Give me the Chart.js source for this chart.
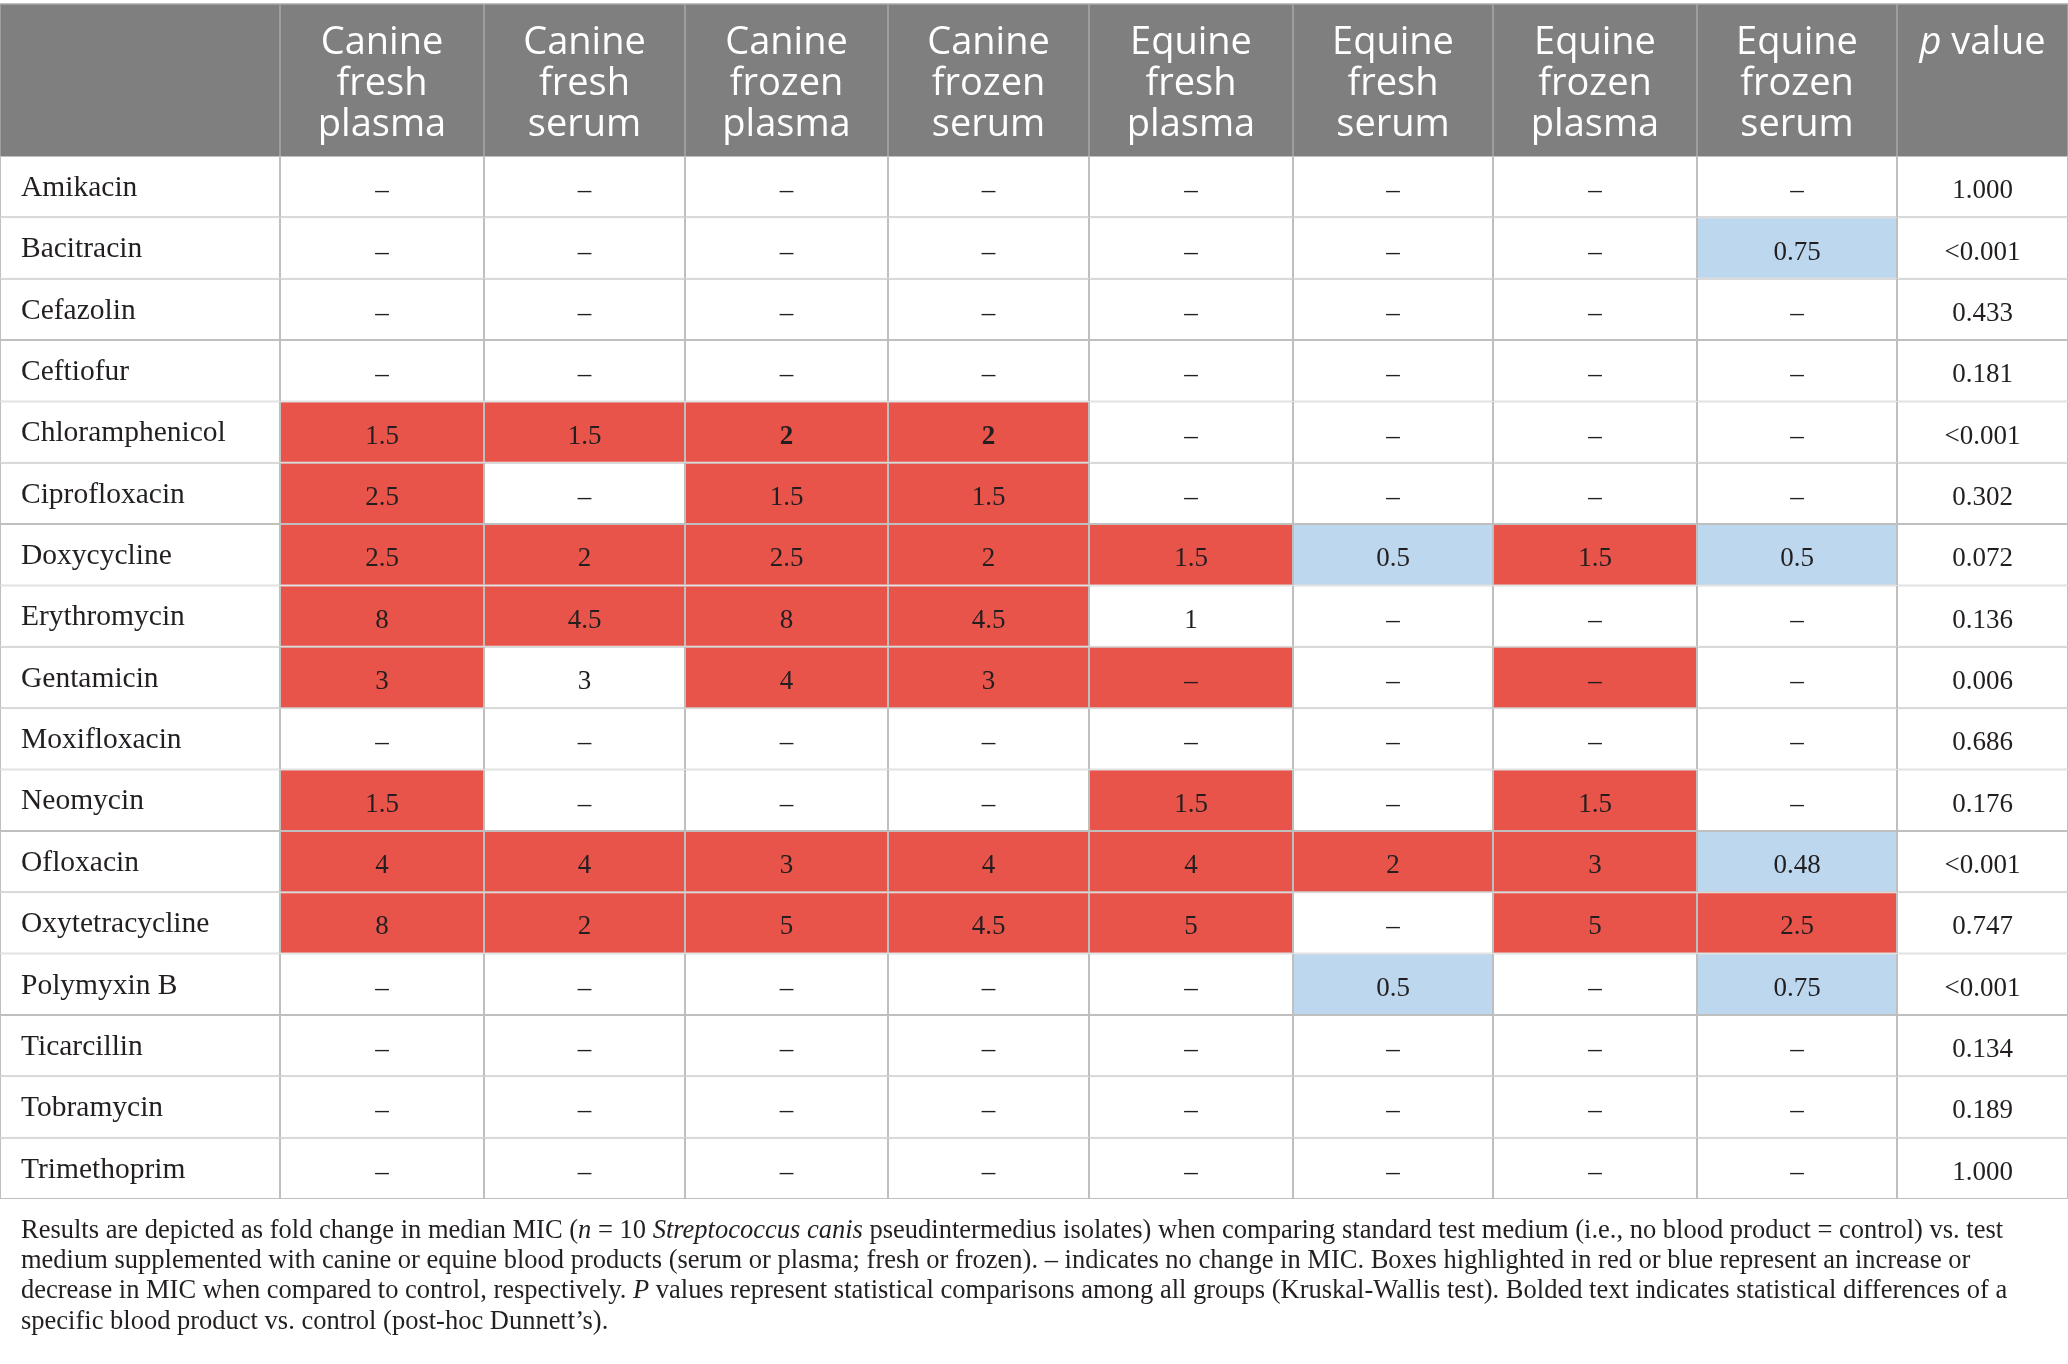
<!DOCTYPE html>
<html>
<head>
<meta charset="utf-8">
<script src="https://cdn.jsdelivr.net/npm/chart.js@4.4.1/dist/chart.umd.min.js"></script>
<style>
  html, body { margin: 0; padding: 0; background: #fff; overflow: hidden; }
  #wrap { position: relative; width: 2068px; height: 1364px; }
</style>
</head>
<body>
<div id="wrap"><canvas id="micTable"></canvas></div>
<script>
// Rows of the table
const drugs = ['Amikacin', 'Bacitracin', 'Cefazolin', 'Ceftiofur', 'Chloramphenicol', 'Ciprofloxacin',
  'Doxycycline', 'Erythromycin', 'Gentamicin', 'Moxifloxacin', 'Neomycin', 'Ofloxacin',
  'Oxytetracycline', 'Polymyxin B', 'Ticarcillin', 'Tobramycin', 'Trimethoprim'];

// Column headings (one entry per line)
const groupHeaders = [
  ['Canine', 'fresh', 'plasma'], ['Canine', 'fresh', 'serum'],
  ['Canine', 'frozen', 'plasma'], ['Canine', 'frozen', 'serum'],
  ['Equine', 'fresh', 'plasma'], ['Equine', 'fresh', 'serum'],
  ['Equine', 'frozen', 'plasma'], ['Equine', 'frozen', 'serum']];

// Fold change in median MIC per blood product ('–' = no change)
const canineFreshPlasma  = ['–','–','–','–','1.5','2.5','2.5','8','3','–','1.5','4','8','–','–','–','–'];
const canineFreshSerum   = ['–','–','–','–','1.5','–','2','4.5','3','–','–','4','2','–','–','–','–'];
const canineFrozenPlasma = ['–','–','–','–','2','1.5','2.5','8','4','–','–','3','5','–','–','–','–'];
const canineFrozenSerum  = ['–','–','–','–','2','1.5','2','4.5','3','–','–','4','4.5','–','–','–','–'];
const equineFreshPlasma  = ['–','–','–','–','–','–','1.5','1','–','–','1.5','4','5','–','–','–','–'];
const equineFreshSerum   = ['–','–','–','–','–','–','0.5','–','–','–','–','2','–','0.5','–','–','–'];
const equineFrozenPlasma = ['–','–','–','–','–','–','1.5','–','–','–','1.5','3','5','–','–','–','–'];
const equineFrozenSerum  = ['–','0.75','–','–','–','–','0.5','–','–','–','–','0.48','2.5','0.75','–','–','–'];
const pValues = ['1.000','<0.001','0.433','0.181','<0.001','0.302','0.072','0.136','0.006','0.686',
  '0.176','<0.001','0.747','<0.001','0.134','0.189','1.000'];

// Highlight per column: r = increase, b = decrease, . = none
const highlights = [
  '....rrrrr.rrr....', '....r.rr...rr....', '....rrrrr..rr....', '....rrrrr..rr....',
  '......r.r.rrr....', '......b....r.b...', '......r.r.rrr....', '.b....b....brb...'];

// Bold cells: [row, group]
const boldCells = [[4, 2], [4, 3]];

const captionLines = [
  [['Results are depicted as fold change in median MIC (', 0], ['n', 1], [' = 10 ', 0], ['Streptococcus canis', 1],
   [' pseudintermedius isolates) when comparing standard test medium (i.e., no blood product = control) vs. test', 0]],
  [['medium supplemented with canine or equine blood products (serum or plasma; fresh or frozen). – indicates no change in MIC. Boxes highlighted in red or blue represent an increase or', 0]],
  [['decrease in MIC when compared to control, respectively. ', 0], ['P', 1],
   [' values represent statistical comparisons among all groups (Kruskal-Wallis test). Bolded text indicates statistical differences of a', 0]],
  [['specific blood product vs. control (post-hoc Dunnett’s).', 0]]];

// layout
const colWidths = [280, 204, 201, 203, 201, 204, 200, 204, 200, 171];
const colEdges = colWidths.reduce((a, w) => { a.push(a[a.length - 1] + w); return a; }, [0]);
const headerTop = 4, headerBottom = 156, tableBottom = 1199;
const RED = '#e8534a', BLUE = '#bdd7ee', HEAD = '#7f7f7f', RULE = '#bfbfbf', INK = '#231f20';
const SERIF = '"Liberation Serif", "Times New Roman", serif';
const SANS = '"Open Sans", "Noto Sans", sans-serif';

const columns = [drugs, canineFreshPlasma, canineFreshSerum, canineFrozenPlasma, canineFrozenSerum,
  equineFreshPlasma, equineFreshSerum, equineFrozenPlasma, equineFrozenSerum, pValues];

function cellColor(c, r) {
  if (c < 1 || c > 8) return '#ffffff';
  const s = highlights[c - 1][r];
  return s === 'r' ? RED : s === 'b' ? BLUE : '#ffffff';
}

const datasets = columns.map((col, c) => ({
  label: c === 0 ? 'Drug' : c === 9 ? 'p value' : groupHeaders[c - 1].join(' '),
  data: drugs.map(() => [colEdges[c], colEdges[c + 1]]),
  backgroundColor: drugs.map((_, r) => cellColor(c, r)),
  borderColor: RULE,
  borderWidth: 1,
  borderSkipped: false,
  inflateAmount: 0,
  barPercentage: 1,
  categoryPercentage: 1,
  grouped: false
}));

// values written in the middle of each cell
const cellText = {
  id: 'cellText',
  afterDatasetsDraw(chart) {
    const ctx = chart.ctx;
    ctx.save();
    ctx.textAlign = 'center';
    ctx.textBaseline = 'alphabetic';
    ctx.fillStyle = INK;
    for (let c = 1; c < columns.length; c++) {
      chart.getDatasetMeta(c).data.forEach((bar, r) => {
        const p = bar.getProps(['x', 'base', 'y'], true);
        const bold = boldCells.some(b => b[0] === r && b[1] === c - 1);
        ctx.font = (bold ? 'bold ' : '') + '27px ' + SERIF;
        ctx.fillText(columns[c][r], (p.x + p.base) / 2, p.y + 11.5);
      });
    }
    ctx.restore();
  }
};

function drawRich(ctx, segs, x, y, size, family, align) {
  const fontOf = it => (it ? 'italic ' : '') + size + 'px ' + family;
  let total = 0;
  segs.forEach(s => { ctx.font = fontOf(s[1]); total += ctx.measureText(s[0]).width; });
  let cx = align === 'center' ? x - total / 2 : x;
  ctx.textAlign = 'left';
  segs.forEach(s => {
    ctx.font = fontOf(s[1]);
    ctx.fillText(s[0], cx, y);
    cx += ctx.measureText(s[0]).width;
  });
}

// grey heading band and the caption under the table
const frame = {
  id: 'frame',
  afterDraw(chart) {
    const ctx = chart.ctx, xs = chart.scales.x;
    const top = chart.chartArea.top;
    const px = v => xs.getPixelForValue(v);
    ctx.save();
    ctx.fillStyle = HEAD;
    ctx.fillRect(px(0), headerTop, px(colEdges[colEdges.length - 1]) - px(0), top - headerTop);
    ctx.strokeStyle = '#a9a9a9';
    ctx.lineWidth = 1.5;
    ctx.beginPath();
    ctx.moveTo(px(0), headerTop);
    ctx.lineTo(px(colEdges[colEdges.length - 1]), headerTop);
    colEdges.forEach(e => { ctx.moveTo(px(e), headerTop); ctx.lineTo(px(e), top); });
    ctx.stroke();

    ctx.fillStyle = '#ffffff';
    ctx.textBaseline = 'alphabetic';
    ctx.textAlign = 'center';
    ctx.font = '38px ' + SANS;
    groupHeaders.forEach((lines, g) => {
      const cx = (px(colEdges[g + 1]) + px(colEdges[g + 2])) / 2;
      lines.forEach((t, k) => ctx.fillText(t, cx, 54 + k * 41));
    });
    drawRich(ctx, [['p', 1], [' value', 0]], (px(colEdges[9]) + px(colEdges[10])) / 2, 54, 38, SANS, 'center');

    ctx.fillStyle = INK;
    ctx.textBaseline = 'alphabetic';
    captionLines.forEach((segs, i) => drawRich(ctx, segs, 21, 1238 + i * 30.2, 26.5, SERIF, 'left'));
    ctx.restore();
  }
};

new Chart(document.getElementById('micTable'), {
  type: 'bar',
  data: { labels: drugs, datasets: datasets },
  options: {
    indexAxis: 'y',
    responsive: true,
    maintainAspectRatio: false,
    animation: false,
    events: [],
    layout: { padding: { top: headerBottom, bottom: 1364 - tableBottom, left: 0, right: 0 } },
    plugins: { legend: { display: false }, tooltip: { enabled: false } },
    scales: {
      x: { type: 'linear', min: 0, max: colEdges[colEdges.length - 1], display: false },
      y: {
        type: 'category',
        afterFit: scale => { scale.width = 0; },
        grid: { display: false, drawTicks: false },
        border: { display: false },
        ticks: {
          mirror: true,
          padding: 21,
          labelOffset: 1.5,
          z: 1,
          color: INK,
          font: { family: SERIF, size: 29.5 }
        }
      }
    }
  },
  plugins: [cellText, frame]
});
</script>
</body>
</html>
